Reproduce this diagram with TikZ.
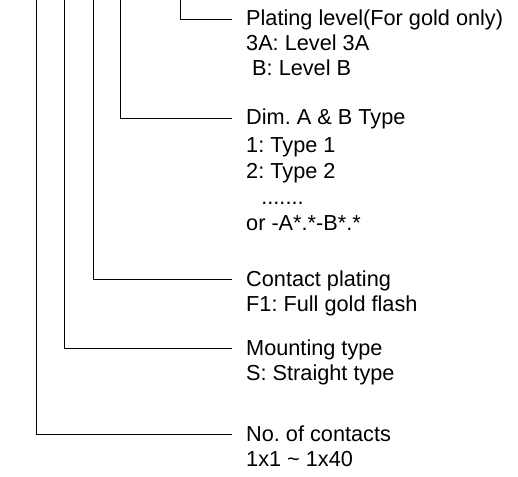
\documentclass[tikz,border=0pt]{standalone}
\usepackage{fontspec}
\setmainfont{Liberation Sans}
\frenchspacing
\usetikzlibrary{positioning,calc}
\tikzset{
  lead/.style={draw=black, line width=0.8bp},
  head/.style={inner sep=0pt, anchor=west, text height=15bp, text depth=1bp,
    font=\fontsize{21.7bp}{25bp}\selectfont},
  desc/.style={inner sep=0pt, anchor=base west, align=left,
    font=\fontsize{21.7bp}{25bp}\selectfont},
}
\begin{document}
\begin{tikzpicture}[x=1bp, y=-1bp]
  \useasboundingbox (0,0) rectangle (518,477);
  % tops of the leads
  \coordinate (t-num)   at (36,0);
  \coordinate (t-mount) at (64,0);
  \coordinate (t-plate) at (93,0);
  \coordinate (t-dim)   at (120,0);
  \coordinate (t-level) at (180,0);
  % headings
  \node[head] (level) at (246,19)  {Plating level(For gold only)};
  \node[head] (dim)   at (246,118) {Dim. A \& B Type};
  \node[head] (plate) at (246,279) {Contact plating};
  \node[head] (mount) at (246,348) {Mounting type};
  \node[head] (num)   at (246,434) {No. of contacts};
  % options (base = last line)
  \node[desc] (level-d) at ([yshift=-50bp]level.base west) {3A: Level 3A\\\ B: Level B};
  \node[desc, font=\fontsize{21.7bp}{26bp}\selectfont] (dim-d) at ([yshift=-105bp]dim.base west)
    {1: Type 1\\2: Type 2\\\hspace{0.7em}.......\\or -A*.*-B*.*};
  \node[desc] (plate-d) at ([yshift=-25bp]plate.base west) {F1: Full gold flash};
  \node[desc] (mount-d) at ([yshift=-25bp]mount.base west) {S: Straight type};
  \node[desc] (num-d)   at ([yshift=-25bp]num.base west)   {1x1 \textasciitilde{} 1x40};
  % leads
  \foreach \n in {num,mount,plate,dim,level}
    \draw[lead] (t-\n) |- ([xshift=-14bp]\n.west);
\end{tikzpicture}
\end{document}
